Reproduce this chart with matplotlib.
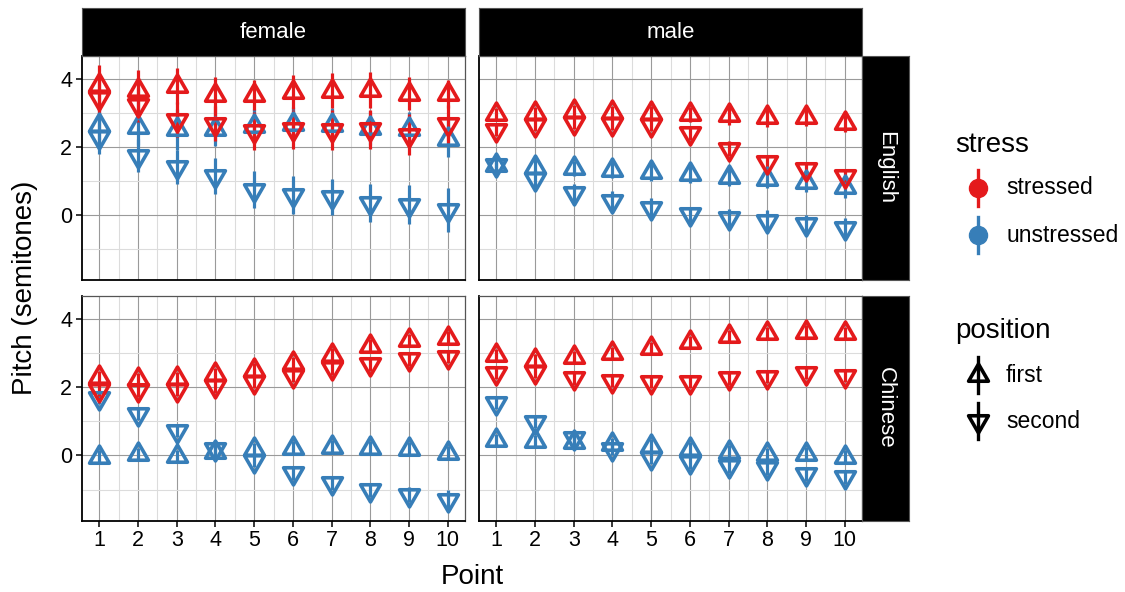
import numpy as np
import matplotlib.pyplot as plt
from matplotlib.path import Path

plt.rcParams['font.family'] = ['Liberation Sans', 'DejaVu Sans']

# values
points = list(range(1, 11))
sexes = ["female", "male"]
languages = ["English", "Chinese"]

# English, female
en_f_st_first = [3.80, 3.65, 3.78, 3.53, 3.51, 3.61, 3.64, 3.67, 3.56, 3.54]
en_f_st_second = [3.44, 3.22, 2.80, 2.68, 2.46, 2.51, 2.49, 2.51, 2.36, 2.67]
en_f_un_first = [2.63, 2.59, 2.51, 2.51, 2.61, 2.66, 2.63, 2.56, 2.51, 2.24]
en_f_un_second = [2.28, 1.74, 1.40, 1.14, 0.75, 0.58, 0.53, 0.36, 0.31, 0.15]
en_f_st_first_se = [0.59, 0.59, 0.53, 0.51, 0.44, 0.50, 0.51, 0.52, 0.48, 0.41]
en_f_st_second_se = [0.50, 0.50, 0.52, 0.52, 0.56, 0.58, 0.58, 0.56, 0.61, 0.55]
en_f_un_first_se = [0.50, 0.55, 0.60, 0.50, 0.50, 0.50, 0.50, 0.50, 0.50, 0.54]
en_f_un_second_se = [0.50, 0.49, 0.50, 0.53, 0.54, 0.56, 0.54, 0.55, 0.57, 0.63]

# English, male
en_m_st_first = [2.95, 3.00, 3.04, 3.02, 3.00, 2.95, 2.92, 2.86, 2.86, 2.69]
en_m_st_second = [2.50, 2.65, 2.70, 2.68, 2.65, 2.41, 1.95, 1.55, 1.36, 1.16]
en_m_un_first = [1.46, 1.42, 1.37, 1.33, 1.25, 1.20, 1.13, 1.07, 0.97, 0.81]
en_m_un_second = [1.46, 1.07, 0.65, 0.41, 0.21, 0.02, -0.08, -0.16, -0.27, -0.37]
en_m_st_first_se = [0.18, 0.18, 0.18, 0.18, 0.20, 0.22, 0.29, 0.27, 0.24, 0.25]
en_m_st_second_se = [0.18, 0.18, 0.18, 0.18, 0.20, 0.20, 0.21, 0.20, 0.20, 0.20]
en_m_un_first_se = [0.22, 0.22, 0.22, 0.23, 0.24, 0.25, 0.27, 0.29, 0.30, 0.32]
en_m_un_second_se = [0.22, 0.24, 0.26, 0.29, 0.29, 0.22, 0.27, 0.30, 0.27, 0.29]

# Chinese, female
zh_f_st_first = [2.29, 2.23, 2.27, 2.37, 2.51, 2.69, 2.93, 3.19, 3.36, 3.44]
zh_f_st_second = [1.92, 1.90, 1.92, 2.02, 2.15, 2.33, 2.55, 2.67, 2.81, 2.89]
zh_f_un_first = [-0.03, 0.05, -0.02, 0.10, 0.18, 0.22, 0.26, 0.22, 0.18, 0.07]
zh_f_un_second = [1.69, 1.21, 0.72, 0.20, -0.17, -0.51, -0.81, -1.00, -1.15, -1.29]
zh_f_st_first_se = [0.18, 0.18, 0.18, 0.18, 0.18, 0.19, 0.20, 0.20, 0.20, 0.20]
zh_f_st_second_se = [0.18, 0.18, 0.18, 0.18, 0.18, 0.19, 0.20, 0.20, 0.20, 0.20]
zh_f_un_first_se = [0.18, 0.18, 0.18, 0.18, 0.18, 0.20, 0.20, 0.20, 0.20, 0.20]
zh_f_un_second_se = [0.18, 0.18, 0.18, 0.18, 0.18, 0.20, 0.21, 0.21, 0.22, 0.27]

# Chinese, male
zh_m_st_first = [2.94, 2.79, 2.87, 3.00, 3.14, 3.31, 3.48, 3.57, 3.62, 3.58]
zh_m_st_second = [2.41, 2.43, 2.25, 2.18, 2.15, 2.16, 2.25, 2.30, 2.41, 2.33]
zh_m_un_first = [0.44, 0.42, 0.40, 0.34, 0.29, 0.20, 0.10, 0.03, 0.05, -0.05]
zh_m_un_second = [1.53, 0.98, 0.50, 0.19, -0.06, -0.20, -0.32, -0.38, -0.54, -0.64]
zh_m_st_first_se = [0.18, 0.18, 0.18, 0.18, 0.18, 0.18, 0.18, 0.18, 0.18, 0.18]
zh_m_st_second_se = [0.18, 0.18, 0.18, 0.18, 0.18, 0.18, 0.18, 0.18, 0.18, 0.18]
zh_m_un_first_se = [0.18, 0.18, 0.18, 0.18, 0.18, 0.20, 0.20, 0.20, 0.20, 0.20]
zh_m_un_second_se = [0.18, 0.18, 0.18, 0.18, 0.18, 0.20, 0.20, 0.20, 0.20, 0.20]

panels = {
    ("English", "female"): [(en_f_un_first, en_f_un_first_se, "unstressed", "first"),
                            (en_f_un_second, en_f_un_second_se, "unstressed", "second"),
                            (en_f_st_first, en_f_st_first_se, "stressed", "first"),
                            (en_f_st_second, en_f_st_second_se, "stressed", "second")],
    ("English", "male"): [(en_m_un_first, en_m_un_first_se, "unstressed", "first"),
                          (en_m_un_second, en_m_un_second_se, "unstressed", "second"),
                          (en_m_st_first, en_m_st_first_se, "stressed", "first"),
                          (en_m_st_second, en_m_st_second_se, "stressed", "second")],
    ("Chinese", "female"): [(zh_f_un_first, zh_f_un_first_se, "unstressed", "first"),
                            (zh_f_un_second, zh_f_un_second_se, "unstressed", "second"),
                            (zh_f_st_first, zh_f_st_first_se, "stressed", "first"),
                            (zh_f_st_second, zh_f_st_second_se, "stressed", "second")],
    ("Chinese", "male"): [(zh_m_un_first, zh_m_un_first_se, "unstressed", "first"),
                          (zh_m_un_second, zh_m_un_second_se, "unstressed", "second"),
                          (zh_m_st_first, zh_m_st_first_se, "stressed", "first"),
                          (zh_m_st_second, zh_m_st_second_se, "stressed", "second")],
}

colours = {"stressed": "#E41A1C", "unstressed": "#377EB8"}
tri_up = Path([(0, 1), (-0.866, -0.5), (0.866, -0.5), (0, 1)],
              [Path.MOVETO, Path.LINETO, Path.LINETO, Path.CLOSEPOLY])
tri_down = Path([(0, -1), (0.866, 0.5), (-0.866, 0.5), (0, -1)],
                [Path.MOVETO, Path.LINETO, Path.LINETO, Path.CLOSEPOLY])
shapes = {"first": tri_up, "second": tri_down}
MS = 16.5
MEW = 2.6

W, H = 1125, 592
fig = plt.figure(figsize=(W / 100, H / 100), dpi=100)


def rect(l, t, r, b):
    return [l / W, 1 - b / H, (r - l) / W, (b - t) / H]


cols = [(82, 465), (479, 862)]
rows = [(56, 280), (296, 520.5)]

for i, lang in enumerate(languages):
    for j, sex in enumerate(sexes):
        l, r = cols[j]
        t, b = rows[i]
        ax = fig.add_axes(rect(l, t, r, b))
        ax.set_xlim(0.55, 10.45)
        ax.set_ylim(-1.9, 4.66)
        ax.set_xticks(points)
        ax.set_xticks(np.arange(1.5, 10, 1), minor=True)
        ax.set_yticks([0, 2, 4])
        ax.set_yticks([-1, 1, 3], minor=True)
        ax.grid(which="major", color="#9a9a9a", lw=0.8)
        ax.grid(which="minor", color="#dcdcdc", lw=0.8)
        ax.set_axisbelow(True)
        ax.tick_params(which="minor", length=0)
        ax.tick_params(which="major", length=4, width=1.1, labelsize=15.5, pad=3)
        if i == 0:
            ax.tick_params(axis="x", length=0, labelbottom=False)
        if j == 1:
            ax.tick_params(axis="y", length=0, labelleft=False)
        for s in ["left", "bottom"]:
            ax.spines[s].set_linewidth(1.3)
            ax.spines[s].set_color("black")
        for s in ["top", "right"]:
            ax.spines[s].set_linewidth(0.9)
            ax.spines[s].set_color("#555555")

        series = panels[(lang, sex)]
        for mean, se, stress, pos in series:
            m = np.array(mean)
            e = np.array(se)
            ax.vlines(points, m - e, m + e, color=colours[stress], lw=2.3, zorder=2)
        for k, (mean, se, stress, pos) in enumerate(series):
            ax.plot(points, mean, ls="none", marker=shapes[pos], ms=MS,
                    mfc="none", mec=colours[stress], mew=MEW, zorder=3 + k)

        # facet strips
        if i == 0:
            st = fig.add_axes(rect(l, 8, r, 56))
            st.set_facecolor("black")
            st.set_xticks([]); st.set_yticks([])
            for s in st.spines.values():
                s.set_color("#555555")
            st.text(0.5, 0.5, sex, color="white", fontsize=16, ha="center",
                    va="center", transform=st.transAxes)
        if j == 1:
            st = fig.add_axes(rect(862, t, 909, b))
            st.set_facecolor("black")
            st.set_xticks([]); st.set_yticks([])
            for s in st.spines.values():
                s.set_color("#555555")
            st.text(0.5, 0.5, lang, color="white", fontsize=16, ha="center",
                    va="center", rotation=-90, transform=st.transAxes)

fig.text(25 / W, 1 - 288 / H, "Pitch (semitones)", rotation=90, fontsize=20,
         ha="center", va="center")
fig.text(472 / W, 1 - 577 / H, "Point", fontsize=20, ha="center", va="center")

# legends, laid out in pixel units
leg = fig.add_axes([0, 0, 1, 1], zorder=10)
leg.set_xlim(0, W)
leg.set_ylim(H, 0)
leg.axis("off")
leg.patch.set_alpha(0)

leg.text(955, 145, "stress", fontsize=20, ha="left", va="center")
for y0, stress in [(188, "stressed"), (235, "unstressed")]:
    leg.plot([977.5, 977.5], [y0 - 18, y0 + 18], color=colours[stress], lw=2.4)
    leg.plot([977.5], [y0], marker="o", ms=13, color=colours[stress])
    leg.text(1006, y0, stress, fontsize=16.5, ha="left", va="center")

leg.text(955, 331, "position", fontsize=20, ha="left", va="center")
for y0, pos in [(375, "first"), (421, "second")]:
    leg.plot([977.5, 977.5], [y0 - 18, y0 + 18], color="black", lw=2.4)
    leg.plot([977.5], [y0], marker=shapes[pos], ms=MS, mfc="none",
             mec="black", mew=MEW)
    leg.text(1006, y0, pos, fontsize=16.5, ha="left", va="center")

fig.savefig("out.png", dpi=100)
